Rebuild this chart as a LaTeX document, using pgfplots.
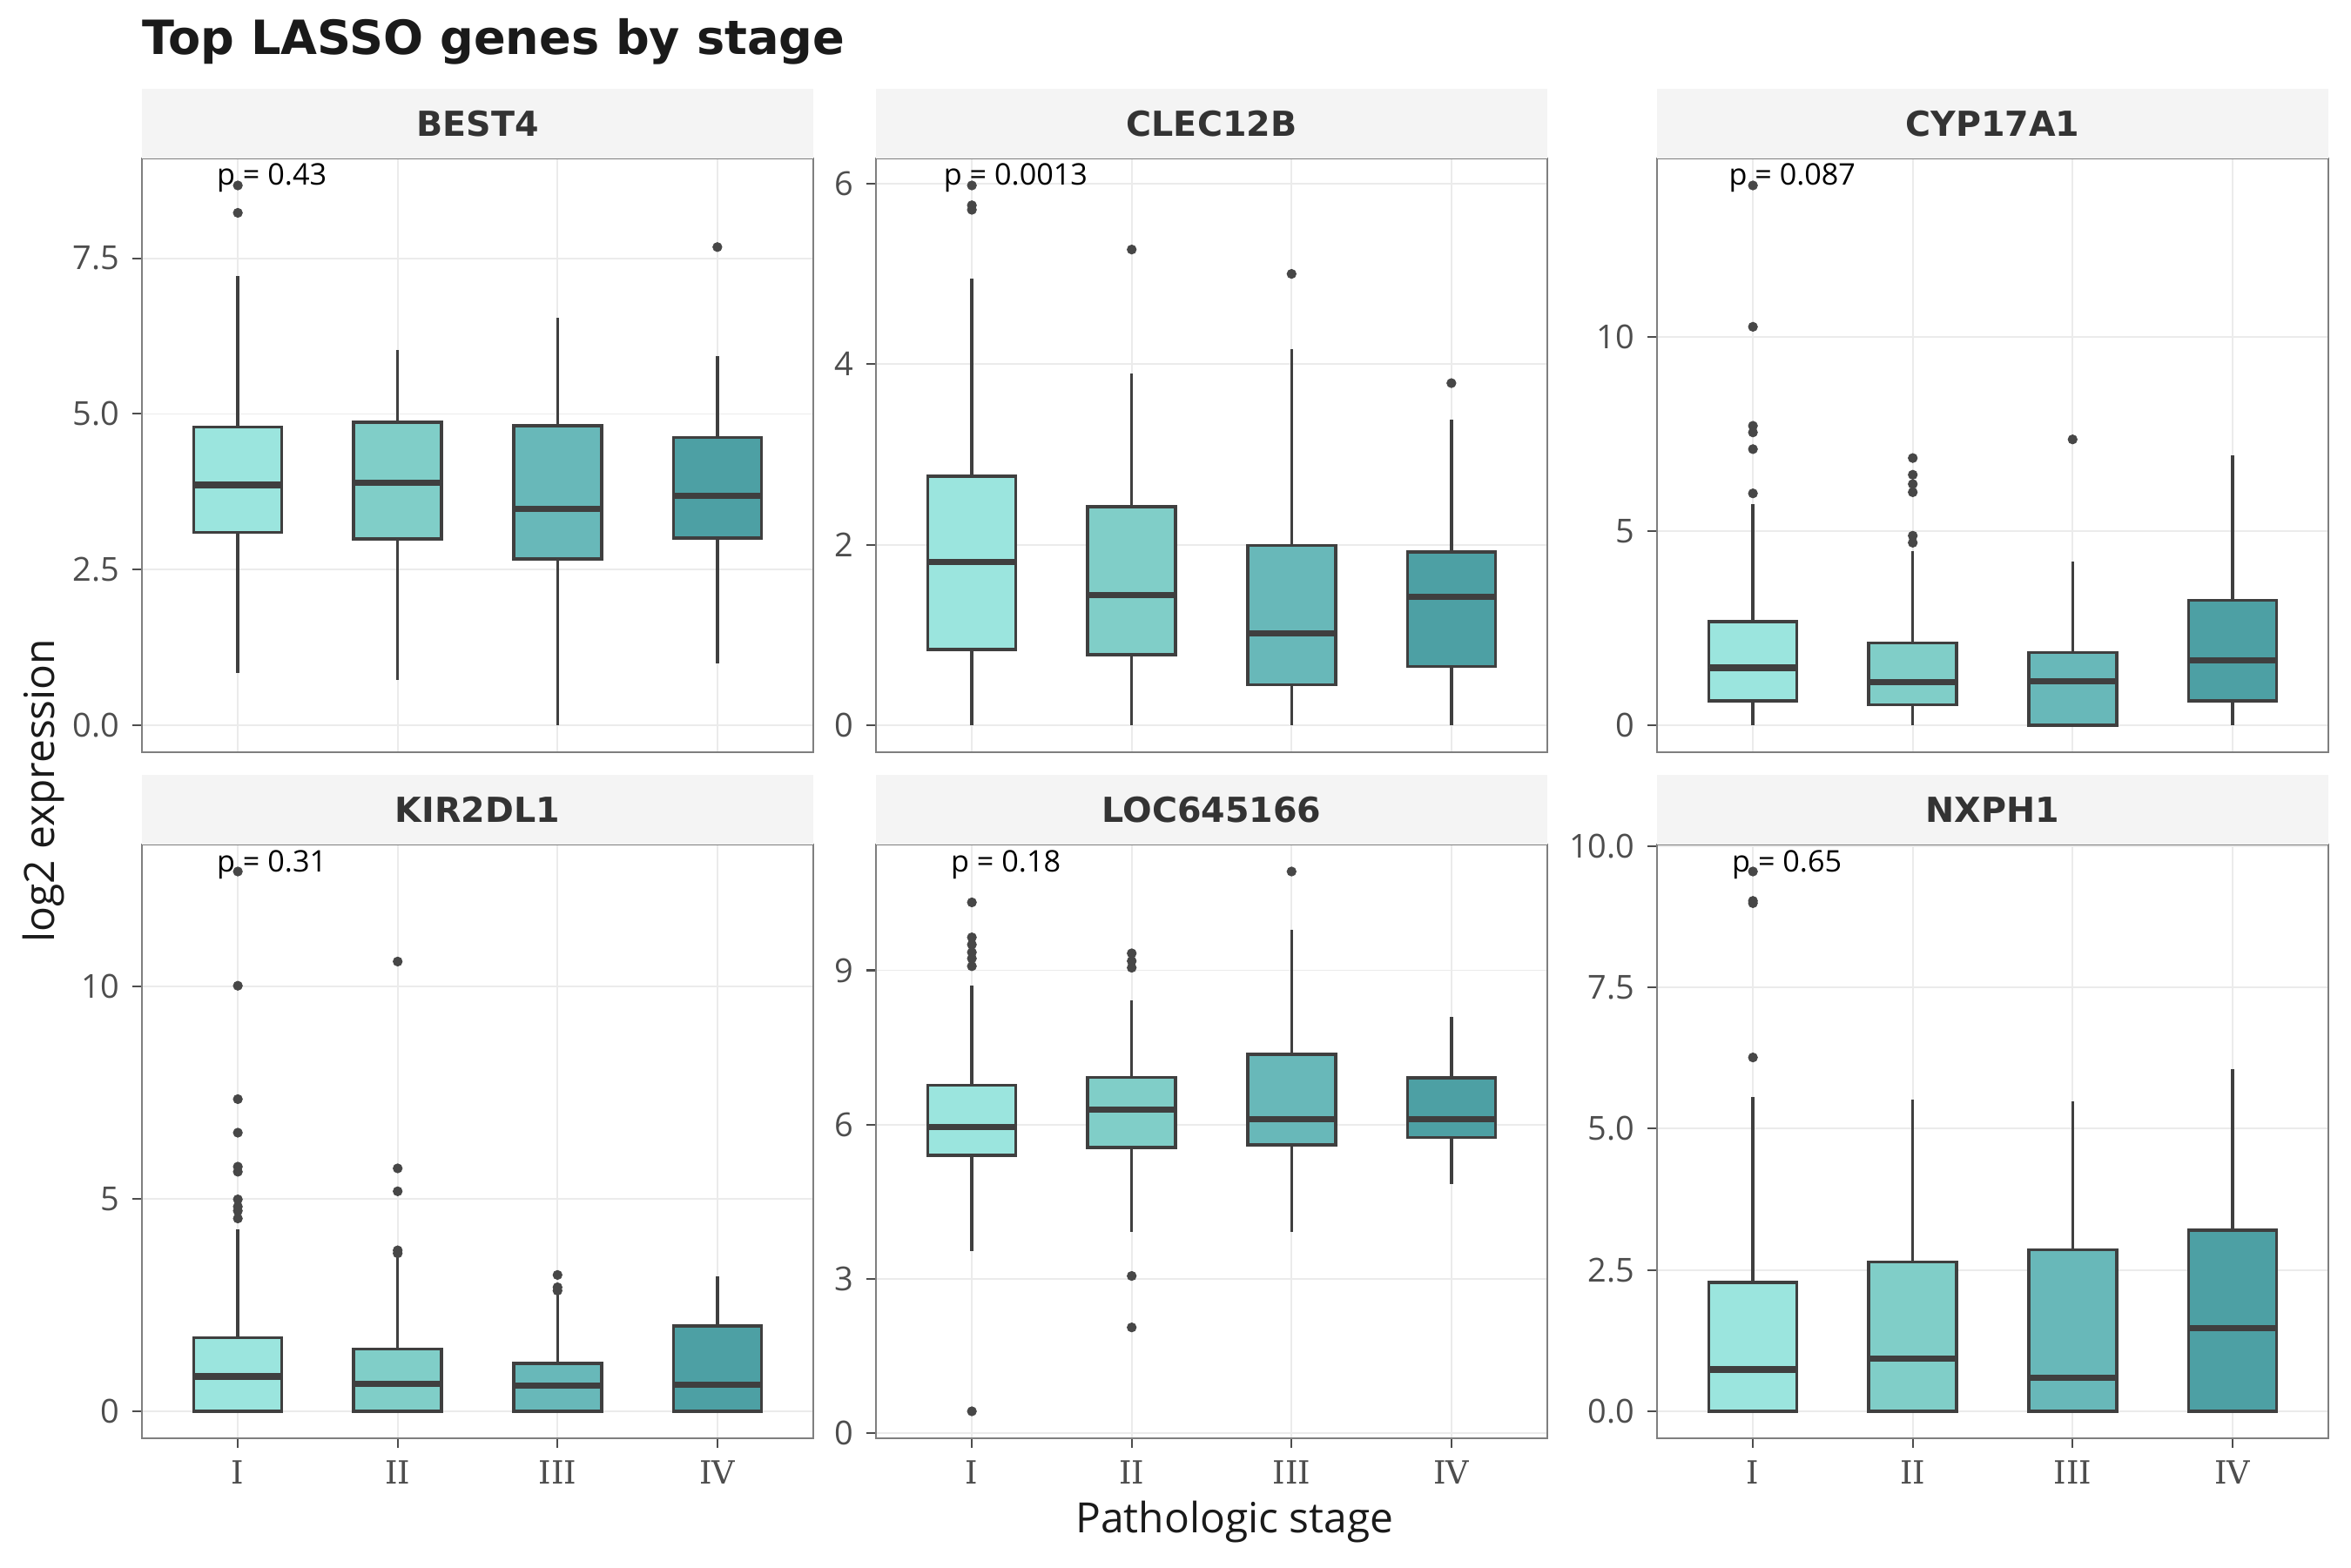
\documentclass[border=0pt]{standalone}
\usepackage{pgfplots}
\pgfplotsset{compat=1.18}
\usepgfplotslibrary{statistics}
\usepackage{fontspec}
\setmainfont{Open Sans}
\newfontfamily\djb{DejaVu Sans}
\newfontfamily\djs{DejaVu Serif}
\definecolor{c1}{HTML}{9BE5DE}
\definecolor{c2}{HTML}{80CEC8}
\definecolor{c3}{HTML}{68B8B9}
\definecolor{c4}{HTML}{4DA0A4}
\definecolor{boxline}{HTML}{3F3F3F}
\definecolor{ptc}{HTML}{474747}
\definecolor{gridc}{HTML}{EBEBEB}
\definecolor{bordc}{HTML}{7F7F7F}
\definecolor{tickc}{HTML}{4D4D4D}
\definecolor{stripc}{HTML}{F4F4F4}
\definecolor{stript}{HTML}{333333}
\definecolor{titc}{HTML}{1A1A1A}
\newcommand{\tickfont}{\fontsize{9.1}{10}\selectfont}
\newcommand{\xtickfont}{\djs\fontsize{8.8}{10}\selectfont}
\newcommand{\pfont}{\fontsize{8.2}{10}\selectfont}
\newcommand{\bx}[7]{\addplot[bxs, fill=#2, boxplot prepared={draw position=#1, lower whisker=#3, lower quartile=#4, median=#5, upper quartile=#6, upper whisker=#7}]}
\pgfplotsset{
  bxs/.style={draw=boxline, line width=0.85pt, mark=*, mark size=1.25pt,
    mark options={draw=ptc, fill=ptc, line width=0.2pt}},
  panel/.style={
    scale only axis, width=185.04pt, height=163.68pt, anchor=north west,
    xmin=0.4, xmax=4.6, xtick={1,2,3,4}, xticklabels={I,II,III,IV},
    xtick pos=bottom, ytick pos=left, tick align=outside, major tick length=2.64pt,
    grid=major, major grid style={color=gridc, line width=0.45pt},
    axis line style={draw=bordc, line width=0.5pt},
    tick style={color=tickc, line width=0.5pt},
    /pgf/number format/assume math mode=true,
    yticklabel style={font=\tickfont, text=tickc},
    xticklabel style={font=\xtickfont, text=tickc},
    boxplot/draw direction=y, boxplot/box extend=0.55, boxplot/whisker extend=0,
    boxplot/every median/.style={line width=1.7pt},
    boxplot/every whisker/.style={line width=0.8pt},
  },
  toprow/.style={xmajorticks=false},
}
\begin{document}
\begin{tikzpicture}
\useasboundingbox (0,0) rectangle (648pt,432pt);
\node[anchor=base west, inner sep=0pt, font=\djb\bfseries\fontsize{13}{15}\selectfont, text=titc] at (39.12pt,416.88pt) {Top LASSO genes by stage};

% BEST4
\begin{axis}[panel, toprow, name=p1, at={(39.12pt,388.32pt)}, ymin=-0.4335, ymax=9.1035,
  ytick={0,2.5,5,7.5}, yticklabels={0.0,2.5,5.0,7.5}]
\bx{1}{c1}{0.84}{3.10}{3.86}{4.79}{7.21} table[row sep=\\,y index=0]{d\\8.67\\8.23\\};
\bx{2}{c2}{0.73}{2.99}{3.89}{4.87}{6.03} coordinates {};
\bx{3}{c3}{0}{2.67}{3.48}{4.81}{6.54} coordinates {};
\bx{4}{c4}{1.00}{3.01}{3.69}{4.62}{5.93} table[row sep=\\,y index=0]{d\\7.68\\};
\node[anchor=base west, inner sep=0pt, font=\pfont] at (axis cs:0.865,8.67) {p = 0.43};
\end{axis}

% CLEC12B
\begin{axis}[panel, toprow, name=p2, at={(241.44pt,388.32pt)}, ymin=-0.299, ymax=6.279,
  ytick={0,2,4,6}, yticklabels={0,2,4,6}]
\bx{1}{c1}{0}{0.84}{1.81}{2.76}{4.95} table[row sep=\\,y index=0]{d\\5.98\\5.76\\5.71\\};
\bx{2}{c2}{0}{0.78}{1.44}{2.42}{3.90} table[row sep=\\,y index=0]{d\\5.27\\};
\bx{3}{c3}{0}{0.45}{1.02}{1.99}{4.17} table[row sep=\\,y index=0]{d\\5.00\\};
\bx{4}{c4}{0}{0.65}{1.42}{1.92}{3.39} table[row sep=\\,y index=0]{d\\3.79\\};
\node[anchor=base west, inner sep=0pt, font=\pfont] at (axis cs:0.82,5.98) {p = 0.0013};
\end{axis}

% CYP17A1
\begin{axis}[panel, toprow, name=p3, at={(456.72pt,388.32pt)}, ymin=-0.695, ymax=14.595,
  ytick={0,5,10}, yticklabels={0,5,10}]
\bx{1}{c1}{0}{0.63}{1.48}{2.67}{5.69} table[row sep=\\,y index=0]{d\\13.9\\10.26\\7.71\\7.54\\7.11\\5.97\\};
\bx{2}{c2}{0}{0.53}{1.11}{2.12}{4.48} table[row sep=\\,y index=0]{d\\6.88\\6.45\\6.21\\6.00\\4.88\\4.70\\};
\bx{3}{c3}{0}{0}{1.13}{1.87}{4.22} table[row sep=\\,y index=0]{d\\7.36\\};
\bx{4}{c4}{0}{0.63}{1.68}{3.22}{6.94} coordinates {};
\node[anchor=base west, inner sep=0pt, font=\pfont] at (axis cs:0.845,13.9) {p = 0.087};
\end{axis}

% KIR2DL1
\begin{axis}[panel, name=p4, at={(39.12pt,199.2pt)}, ymin=-0.6355, ymax=13.3455,
  ytick={0,5,10}, yticklabels={0,5,10}]
\bx{1}{c1}{0}{0}{0.82}{1.73}{4.28} table[row sep=\\,y index=0]{d\\12.71\\10.02\\7.35\\6.56\\5.76\\5.64\\4.99\\4.82\\4.72\\4.54\\};
\bx{2}{c2}{0}{0}{0.64}{1.47}{3.62} table[row sep=\\,y index=0]{d\\10.59\\5.72\\5.18\\3.79\\3.72\\};
\bx{3}{c3}{0}{0}{0.60}{1.13}{2.78} table[row sep=\\,y index=0]{d\\3.21\\2.92\\2.84\\};
\bx{4}{c4}{0}{0}{0.62}{2.01}{3.17} coordinates {};
\node[anchor=base west, inner sep=0pt, font=\pfont] at (axis cs:0.865,12.71) {p = 0.31};
\end{axis}

% LOC645166
\begin{axis}[panel, name=p5, at={(241.44pt,199.2pt)}, ymin=-0.0945, ymax=11.4445,
  ytick={0,3,6,9}, yticklabels={0,3,6,9}]
\bx{1}{c1}{3.54}{5.40}{5.96}{6.77}{8.71} table[row sep=\\,y index=0]{d\\10.32\\9.64\\9.50\\9.35\\9.23\\9.08\\0.43\\};
\bx{2}{c2}{3.91}{5.56}{6.30}{6.92}{8.41} table[row sep=\\,y index=0]{d\\9.33\\9.18\\9.05\\3.06\\2.06\\};
\bx{3}{c3}{3.91}{5.61}{6.10}{7.37}{9.79} table[row sep=\\,y index=0]{d\\10.92\\};
\bx{4}{c4}{4.84}{5.75}{6.10}{6.91}{8.10} coordinates {};
\node[anchor=base west, inner sep=0pt, font=\pfont] at (axis cs:0.865,10.92) {p = 0.18};
\end{axis}

% NXPH1
\begin{axis}[panel, name=p6, at={(456.72pt,199.2pt)}, ymin=-0.4775, ymax=10.0275,
  ytick={0,2.5,5,7.5,10}, yticklabels={0.0,2.5,5.0,7.5,10.0}]
\bx{1}{c1}{0}{0}{0.74}{2.28}{5.56} table[row sep=\\,y index=0]{d\\9.55\\9.03\\8.99\\6.26\\};
\bx{2}{c2}{0}{0}{0.93}{2.64}{5.51} coordinates {};
\bx{3}{c3}{0}{0}{0.59}{2.86}{5.49} coordinates {};
\bx{4}{c4}{0}{0}{1.47}{3.20}{6.05} coordinates {};
\node[anchor=base west, inner sep=0pt, font=\pfont] at (axis cs:0.865,9.55) {p = 0.65};
\end{axis}

% strips
\foreach \p/\t in {p1/BEST4,p2/CLEC12B,p3/CYP17A1,p4/KIR2DL1,p5/LOC645166,p6/NXPH1}{
  \fill[stripc] (\p.north west) rectangle ([yshift=19.2pt]\p.north east);
  \node[font=\djb\bfseries\fontsize{9.5}{11}\selectfont, text=stript] at ([yshift=9.6pt]\p.north) {\t};
}

% axis titles
\node[anchor=base, font=\fontsize{11.5}{13}\selectfont, text=titc] at (340.32pt,9.6pt) {Pathologic stage};
\node[anchor=base, rotate=90, font=\fontsize{11.5}{13}\selectfont, text=titc] at (14.88pt,214pt) {log2 expression};
\end{tikzpicture}
\end{document}
